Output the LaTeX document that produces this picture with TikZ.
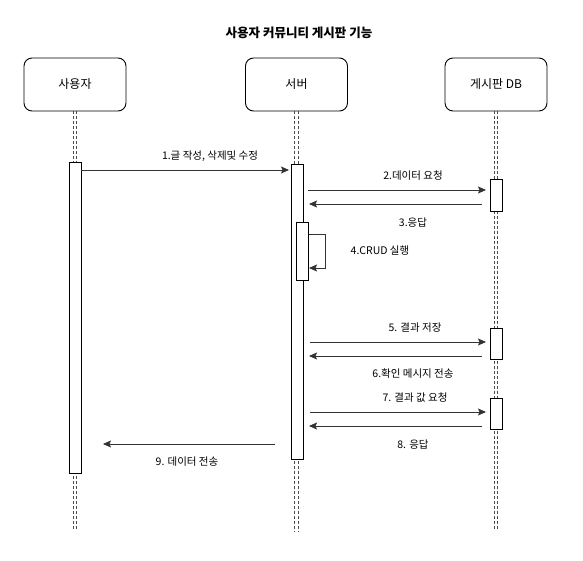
\documentclass[tikz,border=0pt]{standalone}
\usepackage{fontspec}
\setmainfont{Noto Sans CJK KR}
\usetikzlibrary{arrows.meta}
\tikzset{
  actor/.style={draw=black, rounded corners=8pt, line width=0.9pt, minimum width=102pt, minimum height=53pt, inner sep=0pt, font=\fontsize{12}{14}\selectfont},
  act/.style={draw=black, fill=white, line width=0.9pt, minimum width=12pt, inner sep=0pt},
  life/.style={draw=black!70, line width=0.8pt, dash pattern=on 3pt off 2pt},
  msg/.style={draw=black!80, line width=0.9pt, -{Stealth[length=8pt,width=7pt,inset=1.5pt]}},
  lbl/.style={font=\fontsize{10.5}{12}\selectfont, inner sep=0pt},
}
\begin{document}
\begin{tikzpicture}[x=1pt,y=-1pt]
\useasboundingbox (0,0) rectangle (583,561);
% title
\node[font=\bfseries\fontsize{12.5}{14}\selectfont] (title) at (299,33) {사용자 커뮤니티 게시판 기능};
% actors
\node[actor] (user) at (75,84.5) {사용자};
\node[actor] (server) at (296.5,84.5) {서버};
\node[actor] (db) at (496,84.5) {게시판 DB};
% lifeline ends
\coordinate (userend) at (75,529);
\coordinate (serverend) at (296.5,532);
\coordinate (dbend) at (496,530);
% lifelines (double dashed)
\foreach \n in {user,server,db}{
  \draw[life] ([xshift=-1.7pt]\n.south) -- ([xshift=-1.7pt]\n end);
  \draw[life] ([xshift=1.7pt]\n.south) -- ([xshift=1.7pt]\n end);
}
% activations
\node[act, minimum height=311pt] (ua) at (75,317.5) {};
\node[act, minimum height=295pt] (sa) at (297,311.5) {};
\node[act, minimum height=58pt] (sa2) at (302.5,251) {};
\node[act, minimum height=32pt] (da1) at (496,195) {};
\node[act, minimum height=31pt] (da2) at (496,343.5) {};
\node[act, minimum height=31pt] (da3) at (496,413.5) {};
% message endpoints
\coordinate (m1s) at (81,170);   \coordinate (m1e) at (289,170);
\coordinate (m2s) at (308,190);  \coordinate (m2e) at (486,190);
\coordinate (m3s) at (482,204);  \coordinate (m3e) at (309,204);
\coordinate (m4s) at (308.5,234); \coordinate (m4a) at (325,234);
\coordinate (m4b) at (325,268);  \coordinate (m4e) at (309,268);
\coordinate (m5s) at (310,342);  \coordinate (m5e) at (486,342);
\coordinate (m6s) at (482,356);  \coordinate (m6e) at (309,356);
\coordinate (m7s) at (310,412);  \coordinate (m7e) at (486,412);
\coordinate (m8s) at (482,426);  \coordinate (m8e) at (309,426);
\coordinate (m9s) at (275,444);  \coordinate (m9e) at (103,444);
% messages
\draw[msg] (m1s) -- (m1e);
\draw[msg] (m2s) -- (m2e);
\draw[msg] (m3s) -- (m3e);
\draw[msg] (m4s) -- (m4a) -- (m4b) -- (m4e);
\draw[msg] (m5s) -- (m5e);
\draw[msg] (m6s) -- (m6e);
\draw[msg] (m7s) -- (m7e);
\draw[msg] (m8s) -- (m8e);
\draw[msg] (m9s) -- (m9e);
% labels
\node[lbl] (l1) at (210,156) {1.글 작성, 삭제및 수정};
\node[lbl] (l2) at (413,176) {2.데이터 요청};
\node[lbl] (l3) at (413,223) {3.응답};
\node[lbl] (l4) at (380,251) {4.CRUD 실행};
\node[lbl] (l5) at (415,328) {5. 결과 저장};
\node[lbl] (l6) at (413,374) {6.확인 메시지 전송};
\node[lbl] (l7) at (415,398) {7. 결과 값 요청};
\node[lbl] (l8) at (413,445) {8. 응답};
\node[lbl] (l9) at (187,462) {9. 데이터 전송};
\end{tikzpicture}
\end{document}
